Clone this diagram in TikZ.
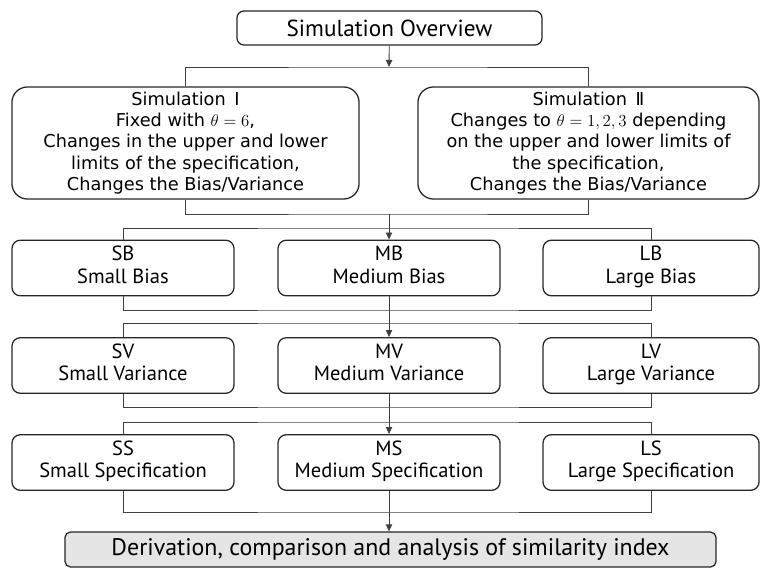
\documentclass[tikz,border=0pt]{standalone}
\usepackage{amsmath}
\usepackage{fontspec}
\usepackage{tikz}
\usetikzlibrary{arrows.meta,positioning,calc}
\newfontfamily\rowfont{PT Sans}
\newfontfamily\simfont{DejaVu Sans}

\begin{document}
\begin{tikzpicture}[
    x=0.025cm, y=-0.025cm,
    box/.style={draw=black!85, line width=0.9pt, rounded corners=5pt, align=center, inner sep=0pt},
    topbox/.style={box, minimum width=7.625cm, minimum height=0.85cm, font=\rowfont\fontsize{16.5}{19}\selectfont},
    simbox/.style={box, rounded corners=11pt, minimum height=2.8cm, font=\simfont\fontsize{12.6}{15.2}\selectfont},
    rowbox/.style={box, rounded corners=6pt, minimum height=1.39cm, font=\rowfont\fontsize{14.6}{16}\selectfont,
        execute at begin node=\strut, execute at end node=\strut},
    endbox/.style={box, fill=black!10, rounded corners=4pt, minimum width=16.275cm, minimum height=0.875cm, font=\rowfont\fontsize{17}{19}\selectfont},
    link/.style={draw=black!75, line width=0.6pt},
    arr/.style={link, -{Triangle[length=5pt,width=4.5pt]}}
]
\useasboundingbox (0,0) rectangle (761,569);

\node[topbox] (ov) at (389.5,28) {Simulation Overview};

\node[simbox, minimum width=8.675cm] (sim1) at (185.5,143) {Simulation \,Ⅰ\\Fixed with $\theta=6$,\\Changes in the upper and lower\\limits of the specification,\\Changes the Bias/Variance};
\node[simbox, minimum width=8.525cm] (sim2) at (588.5,143) {Simulation \,Ⅱ\\Changes to $\theta=1,2,3$ depending\\on the upper and lower limits of\\the specification,\\Changes the Bias/Variance};

\node[rowbox, minimum width=5.55cm] (sb) at (123,268) {SB\\Small Bias};
\node[rowbox, minimum width=5.55cm] (mb) at (389,268) {MB\\Medium Bias};
\node[rowbox, minimum width=5.4cm] (lb) at (651,268) {LB\\Large Bias};

\node[rowbox, minimum width=5.55cm] (sv) at (123,365.5) {SV\\Small Variance};
\node[rowbox, minimum width=5.55cm] (mv) at (389,365.5) {MV\\Medium Variance};
\node[rowbox, minimum width=5.4cm] (lv) at (651,365.5) {LV\\Large Variance};

\node[rowbox, minimum width=5.55cm] (ss) at (123,462.5) {SS\\Small Specification};
\node[rowbox, minimum width=5.55cm] (ms) at (389,462.5) {MS\\Medium Specification};
\node[rowbox, minimum width=5.4cm] (ls) at (651,462.5) {LS\\Large Specification};

\node[endbox] (der) at (390.5,549.5) {Derivation, comparison and analysis of similarity index};

\coordinate (j1) at (389,67);
\coordinate (j2) at (389,214);
\coordinate (j3) at (389,228);
\coordinate (j4) at (389,310);
\coordinate (j5) at (389,323);
\coordinate (j6) at (389,407);
\coordinate (j7) at (389,422);
\coordinate (j8) at (389,512);

\draw[arr] (ov) -- (j1);
\draw[link] (sim1.north) |- (j1) -| (sim2.north);

\draw[link] (sim1.south) |- (j2) -| (sim2.south);
\draw[arr] (j2) -- (mb.north);
\draw[link] (sb.north) |- (j3) -| (lb.north);

\draw[link] (sb.south) |- (j4) -| (lb.south);
\draw[arr] (mb.south) -- (mv.north);
\draw[link] (sv.north) |- (j5) -| (lv.north);

\draw[link] (sv.south) |- (j6) -| (lv.south);
\draw[arr] (mv.south) -- (ms.north);
\draw[link] (ss.north) |- (j7) -| (ls.north);

\draw[link] (ss.south) |- (j8) -| (ls.south);
\draw[arr] (ms.south) -- (ms.south |- der.north);
\end{tikzpicture}
\end{document}
